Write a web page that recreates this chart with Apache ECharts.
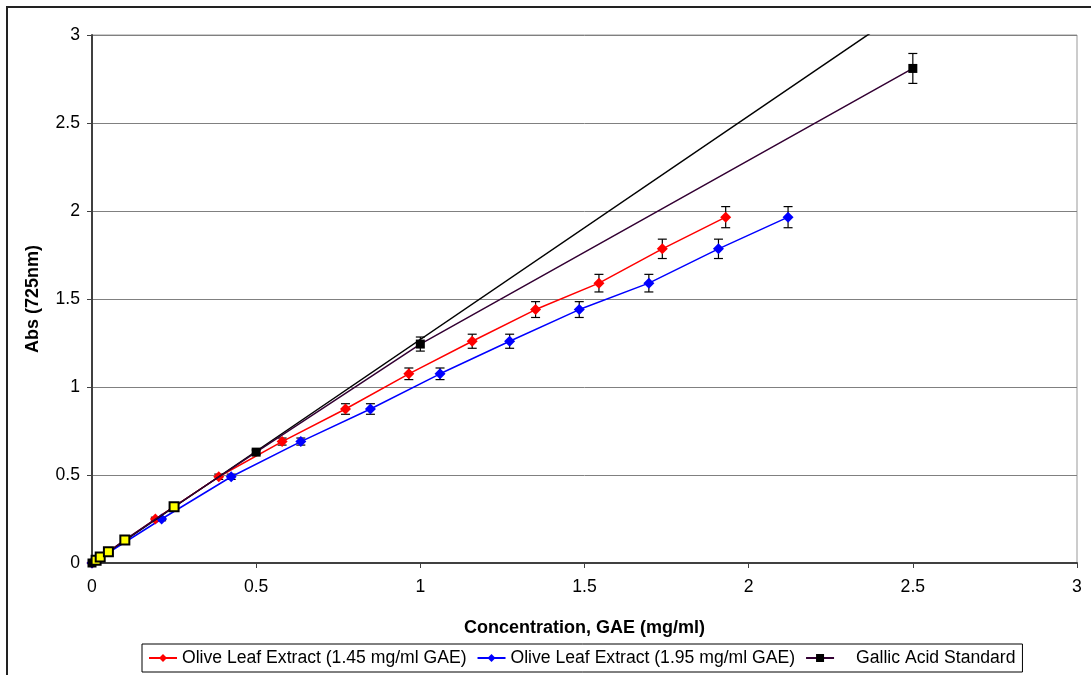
<!DOCTYPE html>
<html lang="en">
<head>
    <meta charset="UTF-8">
    <title>Abs vs concentration</title>
    <script src="https://cdn.jsdelivr.net/npm/echarts@6/dist/echarts.min.js"></script>
    <style>
        html, body { margin: 0; padding: 0; background: #fff; }
        #chart { width: 1091px; height: 675px; }
    </style>
</head>
<body>
<div id="chart"></div>
<script>
    // Olive leaf extract 1.45 mg/ml GAE
    var redX = [0, 0.193, 0.386, 0.579, 0.772, 0.965, 1.158, 1.351, 1.544, 1.737, 1.93];
    var redY = [0, 0.25, 0.49, 0.69, 0.875, 1.075, 1.26, 1.44, 1.59, 1.785, 1.965];
    var redErr = [0, 0.01, 0.015, 0.02, 0.03, 0.033, 0.04, 0.045, 0.05, 0.055, 0.06];
    // Olive leaf extract 1.95 mg/ml GAE
    var blueX = [0, 0.212, 0.424, 0.636, 0.848, 1.06, 1.272, 1.484, 1.696, 1.908, 2.12];
    var blueY = [0, 0.25, 0.49, 0.69, 0.875, 1.075, 1.26, 1.44, 1.59, 1.785, 1.965];
    var blueErr = [0, 0.01, 0.015, 0.02, 0.03, 0.033, 0.04, 0.045, 0.05, 0.055, 0.06];
    // gallic acid standard
    var galX = [0, 0.0125, 0.025, 0.05, 0.1, 0.25, 0.5, 1, 2.5];
    var galY = [0, 0.015, 0.034, 0.064, 0.131, 0.32, 0.63, 1.244, 2.81];
    var galErr = [0, 0, 0, 0, 0, 0.005, 0.012, 0.04, 0.085];
    var galYellow = [false, true, true, true, true, true, false, false, false];
    // linear trendline of the standard
    var trendX = [0, 2.5];
    var trendY = [0, 3.175];

    var seriesNames = ['Olive Leaf Extract (1.45 mg/ml GAE)', 'Olive Leaf Extract (1.95 mg/ml GAE)', 'Gallic Acid Standard'];
    var xTicks = [0, 0.5, 1, 1.5, 2, 2.5, 3];
    var yTicks = [0, 0.5, 1, 1.5, 2, 2.5, 3];

    var font = '"Liberation Sans", Arial, sans-serif';

    function pairs(xs, ys) {
        return xs.map(function (x, i) { return [x, ys[i]]; });
    }
    function errs(xs, ys, es) {
        var out = [];
        xs.forEach(function (x, i) {
            if (es[i] > 0) out.push([x, ys[i] - es[i], ys[i] + es[i]]);
        });
        return out;
    }
    function errorBar(params, api) {
        var x = api.value(0);
        var lo = api.coord([x, api.value(1)]);
        var hi = api.coord([x, api.value(2)]);
        var w = 4.5;
        var st = { stroke: '#000', lineWidth: 1.2 };
        return {
            type: 'group',
            children: [
                { type: 'line', shape: { x1: lo[0], y1: lo[1], x2: hi[0], y2: hi[1] }, style: st },
                { type: 'line', shape: { x1: lo[0] - w, y1: lo[1], x2: lo[0] + w, y2: lo[1] }, style: st },
                { type: 'line', shape: { x1: hi[0] - w, y1: hi[1], x2: hi[0] + w, y2: hi[1] }, style: st }
            ]
        };
    }

    var galData = galX.map(function (x, i) {
        var d = { value: [x, galY[i]] };
        if (galYellow[i]) {
            d.itemStyle = { color: '#FFFF00', borderColor: '#000', borderWidth: 2 };
        }
        return d;
    });

    var option = {
        animation: false,
        backgroundColor: '#fff',
        grid: {
            left: 92, right: 14, top: 35, bottom: 112,
            containLabel: false,
            outerBoundsMode: 'none',
            show: true,
            borderColor: '#999',
            borderWidth: 1
        },
        legend: {
            data: [
                seriesNames[0],
                seriesNames[1],
                { name: seriesNames[2], textStyle: { padding: [0, 0, 0, 17] } }
            ],
            left: 142,
            top: 644,
            padding: [5, 7, 5, 6],
            itemGap: 10,
            itemWidth: 28,
            itemHeight: 10,
            borderColor: '#000',
            borderWidth: 1,
            selectedMode: false,
            textStyle: { fontFamily: font, fontSize: 17.6, color: '#000' }
        },
        xAxis: {
            type: 'value',
            min: 0, max: 3, interval: 0.5,
            name: 'Concentration, GAE (mg/ml)',
            nameLocation: 'middle',
            nameGap: 56,
            nameTextStyle: { fontFamily: font, fontSize: 18, fontWeight: 'bold', color: '#000' },
            axisLine: { onZero: false, lineStyle: { color: '#404040', width: 2 } },
            axisTick: { show: true, inside: false, length: 5, lineStyle: { color: '#404040' } },
            axisLabel: {
                margin: 15, fontFamily: font, fontSize: 17.6, color: '#000',
                formatter: function (v) { return xTicks.indexOf(v) >= 0 ? String(v) : ''; }
            },
            splitLine: { show: false }
        },
        yAxis: {
            type: 'value',
            min: 0, max: 3, interval: 0.5,
            name: 'Abs (725nm)',
            nameLocation: 'middle',
            nameGap: 50,
            nameTextStyle: { fontFamily: font, fontSize: 18, fontWeight: 'bold', color: '#000' },
            axisLine: { show: true, onZero: false, lineStyle: { color: '#404040', width: 2 } },
            axisTick: { show: true, inside: false, length: 5, lineStyle: { color: '#404040' } },
            axisLabel: {
                margin: 12, fontFamily: font, fontSize: 17.6, color: '#000',
                formatter: function (v) { return yTicks.indexOf(v) >= 0 ? String(v) : ''; }
            },
            splitLine: { show: true, lineStyle: { color: '#808080', width: 1 } }
        },
        graphic: [{
            type: 'rect',
            shape: { x: 7, y: 7, width: 3000, height: 3000 },
            style: { fill: 'none', stroke: '#222', lineWidth: 2 },
            silent: true
        }],
        series: [
            { type: 'custom', renderItem: errorBar, data: errs(redX, redY, redErr), z: 1, silent: true },
            { type: 'custom', renderItem: errorBar, data: errs(blueX, blueY, blueErr), z: 1, silent: true },
            { type: 'custom', renderItem: errorBar, data: errs(galX, galY, galErr), z: 1, silent: true },
            {
                name: seriesNames[0], type: 'line', data: pairs(redX, redY), z: 3,
                symbol: 'diamond', symbolSize: 11, showAllSymbol: true,
                lineStyle: { color: '#FF0000', width: 1.5 },
                itemStyle: { color: '#FF0000' }
            },
            {
                name: seriesNames[1], type: 'line', data: pairs(blueX, blueY), z: 3,
                symbol: 'diamond', symbolSize: 11, showAllSymbol: true,
                lineStyle: { color: '#0000FF', width: 1.5 },
                itemStyle: { color: '#0000FF' }
            },
            {
                name: 'trend', type: 'line', data: pairs(trendX, trendY), z: 4,
                symbol: 'none', clip: true,
                lineStyle: { color: '#000', width: 1.5 }
            },
            {
                name: seriesNames[2], type: 'line', data: galData, z: 5,
                symbol: 'rect', symbolSize: 9, showAllSymbol: true,
                lineStyle: { color: '#330033', width: 1.5 },
                itemStyle: { color: '#000' }
            }
        ]
    };

    var myChart = echarts.init(document.getElementById('chart'));
    myChart.setOption(option);
</script>
</body>
</html>
